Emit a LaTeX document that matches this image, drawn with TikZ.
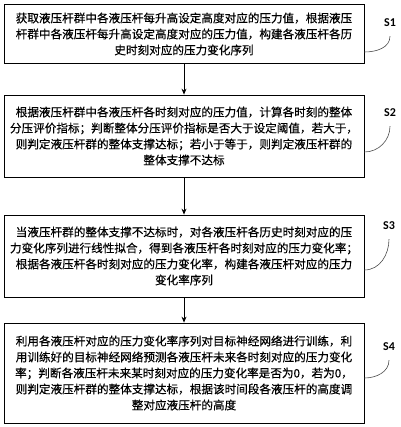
\documentclass[tikz,border=0pt]{standalone}
\usepackage{fontspec}
\setmainfont{Carlito}
\newfontfamily\cjk[FakeBold=0.4]{Noto Sans CJK SC}
\usetikzlibrary{arrows.meta}

\begin{document}
\begin{tikzpicture}[
  x=1pt, y=-1pt,
  stepbox/.style={draw, line width=0.8pt, minimum width=360pt, text width=350pt,
    align=center, inner sep=0pt, font=\cjk\fontsize{11.6}{16}\selectfont},
  arrow/.style={-{Stealth[length=6pt,width=5pt]}, line width=0.8pt},
  steplabel/.style={font=\bfseries\fontsize{12}{14}\selectfont, inner sep=3pt},
  labelcurve/.style={line width=0.6pt, black!70}
]
\useasboundingbox (0,0) rectangle (400,427);

% Steps
\node[stepbox, minimum height=59pt] (s1) at (184,34)
  {获取液压杆群中各液压杆每升高设定高度对应的压力值，根据液压\\
   杆群中各液压杆每升高设定高度对应的压力值，构建各液压杆各历\\
   史时刻对应的压力变化序列};

\node[stepbox, minimum height=82pt] (s2) at (184,136)
  {根据液压杆群中各液压杆各时刻对应的压力值，计算各时刻的整体\\
   分压评价指标；判断整体分压评价指标是否大于设定阈值，若大于，\\
   则判定液压杆群的整体支撑达标；若小于等于，则判定液压杆群的\\
   整体支撑不达标};

\node[stepbox, minimum height=82pt] (s3) at (184,256)
  {当液压杆群的整体支撑不达标时，对各液压杆各历史时刻对应的压\\
   力变化序列进行线性拟合，得到各液压杆各时刻对应的压力变化率；\\
   根据各液压杆各时刻对应的压力变化率，构建各液压杆对应的压力\\
   变化率序列};

\node[stepbox, minimum height=100pt] (s4) at (184,373)
  {利用各液压杆对应的压力变化率序列对目标神经网络进行训练，利\\
   用训练好的目标神经网络预测各液压杆未来各时刻对应的压力变化\\
   率；判断各液压杆未来某时刻对应的压力变化率是否为0，若为0，\\
   则判定液压杆群的整体支撑达标，根据该时间段各液压杆的高度调\\
   整对应液压杆的高度};

% Step labels
\node[steplabel] (l1) at (390,23) {S1};
\node[steplabel] (l2) at (390,113) {S2};
\node[steplabel] (l3) at (389,226) {S3};
\node[steplabel] (l4) at (389,347) {S4};

% Arrows
\foreach \i/\j in {1/2,2/3,3/4}
  \draw[arrow] (s\i) -- (s\j);

% Label curves
\foreach \i/\d in {1/18,2/16,3/14,4/5}
  \draw[labelcurve] ([yshift=-\d pt]s\i.east) to[out=0, in=-90] ([yshift=-6pt]l\i.south);

\end{tikzpicture}
\end{document}
